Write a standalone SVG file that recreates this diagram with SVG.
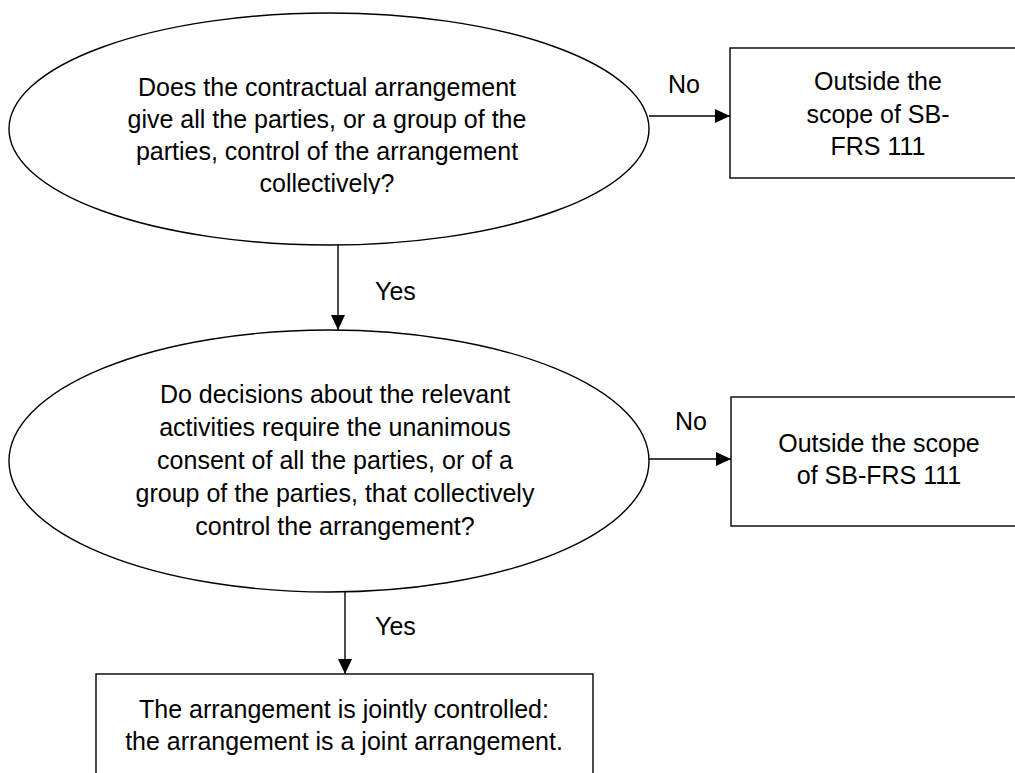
<svg xmlns="http://www.w3.org/2000/svg" width="1015" height="773" viewBox="0 0 1015 773">
<style>
.shape{fill:#fff;stroke:#000;stroke-width:1.4}
.t{font-family:"Liberation Sans",Arial,sans-serif;font-size:25px;fill:#000}
.c{text-anchor:middle}
.line{stroke:#000;stroke-width:1.4;fill:none}
</style>
<defs>
<marker id="arr" markerWidth="15" markerHeight="14" refX="15" refY="7" orient="auto" markerUnits="userSpaceOnUse">
<path d="M0,0 L15,7 L0,14 Z" fill="#000"/>
</marker>
<clipPath id="clip1"><rect x="0" y="0" width="700" height="194"/></clipPath>
</defs>
<rect width="1015" height="773" fill="#fff"/>
<g id="connectors">
<line class="line" x1="338" y1="245" x2="338" y2="330" marker-end="url(#arr)"/>
<line class="line" x1="649" y1="116" x2="730" y2="116" marker-end="url(#arr)"/>
<line class="line" x1="649" y1="459" x2="731" y2="459" marker-end="url(#arr)"/>
<line class="line" x1="345" y1="592" x2="345" y2="674" marker-end="url(#arr)"/>
<text class="t" x="668" y="93">No</text>
<text class="t" x="675" y="430">No</text>
<text class="t" x="375" y="300">Yes</text>
<text class="t" x="375" y="635">Yes</text>
</g>
<g id="q1">
<ellipse class="shape" cx="329" cy="129" rx="320" ry="116"/>
<g clip-path="url(#clip1)">
<text class="t c" x="327" y="96">Does the contractual arrangement</text>
<text class="t c" x="327" y="128">give all the parties, or a group of the</text>
<text class="t c" x="327" y="160">parties, control of the arrangement</text>
<text class="t c" x="327" y="192">collectively?</text>
</g>
</g>
<g id="out1">
<rect class="shape" x="730" y="48" width="300" height="130"/>
<text class="t c" x="878" y="90">Outside the</text>
<text class="t c" x="878" y="123">scope of SB-</text>
<text class="t c" x="878" y="155">FRS 111</text>
</g>
<g id="q2">
<ellipse class="shape" cx="329" cy="461" rx="320" ry="131"/>
<text class="t c" x="335" y="403">Do decisions about the relevant</text>
<text class="t c" x="335" y="436">activities require the unanimous</text>
<text class="t c" x="335" y="469">consent of all the parties, or of a</text>
<text class="t c" x="335" y="502">group of the parties, that collectively</text>
<text class="t c" x="335" y="535">control the arrangement?</text>
</g>
<g id="out2">
<rect class="shape" x="731" y="397" width="300" height="129"/>
<text class="t c" x="879" y="452">Outside the scope</text>
<text class="t c" x="879" y="484">of SB-FRS 111</text>
</g>
<g id="joint">
<rect class="shape" x="96" y="674" width="497" height="120"/>
<text class="t c" x="344" y="718">The arrangement is jointly controlled:</text>
<text class="t c" x="344" y="750">the arrangement is a joint arrangement.</text>
</g>
</svg>
